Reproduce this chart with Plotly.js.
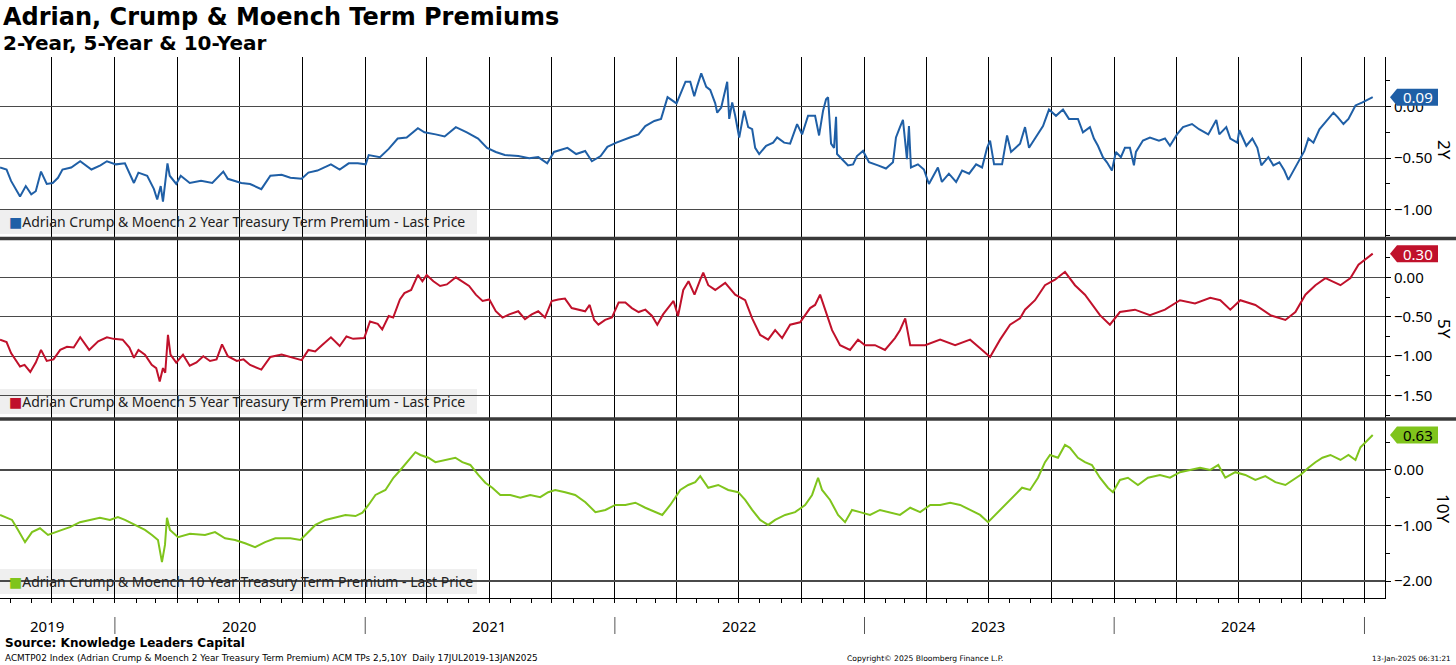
<!DOCTYPE html>
<html>
<head>
<meta charset="utf-8">
<script src="https://cdn.plot.ly/plotly-3.0.1.min.js"></script>
<style>
html,body{margin:0;padding:0;background:#fff;}
#chart{width:1456px;height:665px;}
</style>
</head>
<body>
<div id="chart"></div>
<script>
// ---- Data (decimal-year dates, values in %) ----
const t2y = [2019.540,2019.566,2019.584,2019.620,2019.643,2019.665,2019.683,2019.704,2019.727,2019.751,2019.772,2019.790,2019.825,2019.861,2019.906,2019.942,2019.968,2020.004,2020.040,2020.076,2020.094,2020.129,2020.156,2020.169,2020.183,2020.192,2020.210,2020.219,2020.245,2020.263,2020.299,2020.344,2020.389,2020.433,2020.451,2020.505,2020.540,2020.585,2020.621,2020.666,2020.701,2020.746,2020.773,2020.809,2020.863,2020.898,2020.934,2020.970,2021.002,2021.014,2021.059,2021.094,2021.130,2021.166,2021.211,2021.237,2021.282,2021.318,2021.363,2021.407,2021.452,2021.488,2021.523,2021.559,2021.613,2021.657,2021.693,2021.729,2021.756,2021.810,2021.845,2021.881,2021.908,2021.943,2021.970,2022.006,2022.060,2022.095,2022.122,2022.158,2022.185,2022.211,2022.247,2022.283,2022.302,2022.318,2022.330,2022.346,2022.366,2022.382,2022.402,2022.410,2022.426,2022.450,2022.458,2022.470,2022.482,2022.498,2022.518,2022.534,2022.550,2022.562,2022.578,2022.606,2022.634,2022.650,2022.678,2022.702,2022.730,2022.750,2022.774,2022.802,2022.818,2022.834,2022.846,2022.854,2022.866,2022.878,2022.886,2022.890,2022.910,2022.934,2022.954,2022.970,2022.994,2023.018,2023.054,2023.086,2023.114,2023.126,2023.142,2023.154,2023.170,2023.178,2023.186,2023.214,2023.238,2023.258,2023.294,2023.310,2023.338,2023.367,2023.391,2023.419,2023.447,2023.471,2023.491,2023.503,2023.519,2023.551,2023.571,2023.587,2023.623,2023.643,2023.659,2023.687,2023.715,2023.739,2023.767,2023.795,2023.819,2023.855,2023.875,2023.903,2023.919,2023.935,2023.955,2023.971,2023.991,2024.007,2024.027,2024.043,2024.063,2024.079,2024.087,2024.115,2024.143,2024.179,2024.203,2024.223,2024.251,2024.275,2024.311,2024.339,2024.376,2024.408,2024.420,2024.448,2024.464,2024.492,2024.500,2024.528,2024.552,2024.572,2024.588,2024.616,2024.636,2024.660,2024.680,2024.696,2024.724,2024.740,2024.760,2024.776,2024.796,2024.820,2024.848,2024.876,2024.892,2024.916,2024.936,2024.964,2024.992,2025.033];
const v2y = [-0.59,-0.61,-0.72,-0.87,-0.77,-0.85,-0.82,-0.63,-0.75,-0.74,-0.69,-0.61,-0.59,-0.53,-0.61,-0.57,-0.53,-0.56,-0.55,-0.74,-0.64,-0.67,-0.80,-0.90,-0.77,-0.92,-0.55,-0.67,-0.75,-0.67,-0.74,-0.72,-0.74,-0.63,-0.70,-0.74,-0.75,-0.80,-0.67,-0.66,-0.69,-0.70,-0.64,-0.62,-0.56,-0.61,-0.55,-0.55,-0.56,-0.47,-0.49,-0.41,-0.31,-0.30,-0.21,-0.25,-0.27,-0.29,-0.20,-0.25,-0.31,-0.40,-0.44,-0.47,-0.48,-0.50,-0.49,-0.55,-0.44,-0.40,-0.46,-0.43,-0.53,-0.48,-0.39,-0.35,-0.30,-0.27,-0.19,-0.14,-0.12,0.09,0.03,0.24,0.24,0.10,0.20,0.32,0.19,0.16,0.03,-0.06,-0.01,0.24,-0.12,0.04,-0.09,-0.30,-0.04,-0.20,-0.22,-0.40,-0.46,-0.38,-0.35,-0.30,-0.35,-0.36,-0.17,-0.27,-0.09,-0.09,-0.28,-0.04,0.07,0.09,-0.36,-0.40,-0.10,-0.46,-0.51,-0.57,-0.56,-0.48,-0.43,-0.54,-0.57,-0.60,-0.54,-0.30,-0.20,-0.13,-0.51,-0.19,-0.59,-0.56,-0.61,-0.75,-0.59,-0.73,-0.65,-0.73,-0.62,-0.65,-0.56,-0.59,-0.40,-0.33,-0.56,-0.56,-0.28,-0.44,-0.36,-0.20,-0.40,-0.30,-0.19,-0.03,-0.09,-0.03,-0.12,-0.12,-0.25,-0.20,-0.31,-0.38,-0.49,-0.54,-0.62,-0.44,-0.49,-0.40,-0.40,-0.57,-0.44,-0.33,-0.30,-0.33,-0.31,-0.38,-0.27,-0.20,-0.17,-0.22,-0.27,-0.13,-0.27,-0.20,-0.31,-0.35,-0.23,-0.38,-0.31,-0.40,-0.57,-0.49,-0.57,-0.54,-0.62,-0.71,-0.59,-0.53,-0.43,-0.31,-0.35,-0.22,-0.14,-0.06,-0.10,-0.17,-0.12,0.01,0.04,0.09];

const t5y = [2019.540,2019.566,2019.584,2019.620,2019.638,2019.661,2019.683,2019.704,2019.727,2019.754,2019.781,2019.808,2019.835,2019.861,2019.897,2019.933,2019.968,2019.995,2020.031,2020.058,2020.076,2020.094,2020.120,2020.147,2020.165,2020.179,2020.192,2020.201,2020.212,2020.222,2020.245,2020.272,2020.299,2020.326,2020.353,2020.380,2020.406,2020.428,2020.451,2020.487,2020.514,2020.540,2020.585,2020.621,2020.666,2020.701,2020.746,2020.773,2020.800,2020.827,2020.863,2020.898,2020.925,2020.952,2020.996,2021.019,2021.050,2021.068,2021.094,2021.112,2021.139,2021.157,2021.184,2021.211,2021.229,2021.246,2021.273,2021.300,2021.327,2021.363,2021.390,2021.416,2021.443,2021.470,2021.497,2021.523,2021.550,2021.577,2021.613,2021.640,2021.667,2021.693,2021.720,2021.747,2021.773,2021.800,2021.827,2021.854,2021.881,2021.899,2021.917,2021.934,2021.961,2021.988,2022.015,2022.042,2022.068,2022.095,2022.122,2022.149,2022.170,2022.193,2022.220,2022.235,2022.253,2022.274,2022.295,2022.319,2022.342,2022.354,2022.374,2022.402,2022.442,2022.482,2022.522,2022.550,2022.582,2022.614,2022.642,2022.670,2022.702,2022.742,2022.782,2022.802,2022.822,2022.842,2022.870,2022.902,2022.942,2022.974,2023.002,2023.042,2023.082,2023.122,2023.142,2023.163,2023.183,2023.243,2023.303,2023.363,2023.423,2023.463,2023.503,2023.543,2023.583,2023.623,2023.643,2023.683,2023.723,2023.763,2023.803,2023.843,2023.883,2023.943,2023.983,2024.023,2024.083,2024.143,2024.203,2024.263,2024.323,2024.384,2024.424,2024.464,2024.504,2024.564,2024.624,2024.684,2024.724,2024.764,2024.804,2024.844,2024.904,2024.944,2024.976,2025.033];
const v5y = [-0.79,-0.82,-0.96,-1.13,-1.11,-1.20,-1.08,-0.92,-1.06,-1.04,-0.92,-0.88,-0.89,-0.76,-0.92,-0.81,-0.76,-0.78,-0.79,-0.89,-1.02,-0.92,-0.98,-1.11,-1.15,-1.32,-1.15,-1.21,-0.73,-0.98,-1.08,-0.98,-1.12,-1.08,-1.00,-1.06,-1.04,-0.85,-1.00,-1.06,-1.04,-1.11,-1.17,-1.01,-0.98,-1.01,-1.05,-0.92,-0.94,-0.86,-0.76,-0.87,-0.75,-0.78,-0.77,-0.56,-0.59,-0.66,-0.49,-0.51,-0.28,-0.20,-0.16,0.03,-0.05,0.03,-0.05,-0.11,-0.09,0.00,-0.06,-0.11,-0.22,-0.30,-0.28,-0.43,-0.51,-0.47,-0.43,-0.53,-0.47,-0.43,-0.51,-0.30,-0.28,-0.27,-0.39,-0.41,-0.43,-0.35,-0.54,-0.60,-0.54,-0.51,-0.32,-0.32,-0.39,-0.44,-0.41,-0.49,-0.60,-0.47,-0.37,-0.30,-0.49,-0.16,-0.05,-0.22,-0.03,0.06,-0.10,-0.16,-0.07,-0.22,-0.29,-0.52,-0.73,-0.79,-0.67,-0.77,-0.60,-0.57,-0.39,-0.35,-0.22,-0.41,-0.67,-0.86,-0.92,-0.79,-0.86,-0.86,-0.92,-0.77,-0.67,-0.52,-0.86,-0.86,-0.79,-0.86,-0.79,-0.90,-1.01,-0.79,-0.60,-0.52,-0.41,-0.29,-0.10,-0.03,0.07,-0.10,-0.22,-0.48,-0.60,-0.44,-0.41,-0.48,-0.41,-0.29,-0.33,-0.26,-0.29,-0.41,-0.29,-0.35,-0.48,-0.54,-0.44,-0.22,-0.10,-0.01,-0.10,-0.01,0.16,0.30];

const t10y = [2019.540,2019.588,2019.612,2019.640,2019.668,2019.700,2019.732,2019.760,2019.788,2019.820,2019.860,2019.900,2019.940,2019.980,2020.012,2020.040,2020.080,2020.120,2020.148,2020.172,2020.188,2020.200,2020.208,2020.220,2020.252,2020.300,2020.360,2020.400,2020.440,2020.480,2020.520,2020.560,2020.600,2020.641,2020.701,2020.741,2020.761,2020.801,2020.841,2020.881,2020.921,2020.961,2020.989,2021.013,2021.041,2021.081,2021.113,2021.141,2021.173,2021.201,2021.221,2021.253,2021.281,2021.321,2021.361,2021.389,2021.421,2021.453,2021.481,2021.509,2021.541,2021.581,2021.621,2021.661,2021.701,2021.733,2021.761,2021.801,2021.841,2021.882,2021.922,2021.962,2022.002,2022.042,2022.082,2022.122,2022.162,2022.190,2022.222,2022.262,2022.294,2022.322,2022.342,2022.374,2022.414,2022.454,2022.494,2022.522,2022.550,2022.582,2022.614,2022.642,2022.682,2022.722,2022.762,2022.790,2022.814,2022.830,2022.862,2022.894,2022.922,2022.950,2022.982,2023.022,2023.062,2023.102,2023.142,2023.183,2023.223,2023.263,2023.303,2023.343,2023.383,2023.423,2023.463,2023.495,2023.523,2023.563,2023.603,2023.631,2023.663,2023.695,2023.723,2023.743,2023.775,2023.803,2023.823,2023.855,2023.883,2023.911,2023.943,2023.975,2023.995,2024.023,2024.055,2024.095,2024.135,2024.183,2024.223,2024.263,2024.303,2024.343,2024.384,2024.416,2024.444,2024.484,2024.524,2024.564,2024.604,2024.644,2024.684,2024.716,2024.744,2024.776,2024.804,2024.832,2024.864,2024.904,2024.936,2024.964,2024.984,2025.033];
const v10y = [-0.81,-0.90,-1.08,-1.30,-1.12,-1.05,-1.17,-1.12,-1.08,-1.03,-0.94,-0.90,-0.86,-0.90,-0.85,-0.90,-0.99,-1.08,-1.17,-1.26,-1.66,-1.35,-0.86,-1.08,-1.21,-1.15,-1.17,-1.12,-1.23,-1.26,-1.32,-1.39,-1.30,-1.23,-1.23,-1.26,-1.17,-0.99,-0.90,-0.86,-0.81,-0.83,-0.77,-0.63,-0.45,-0.36,-0.14,0.00,0.18,0.32,0.27,0.22,0.14,0.18,0.22,0.14,0.09,-0.09,-0.23,-0.32,-0.45,-0.45,-0.50,-0.45,-0.49,-0.40,-0.36,-0.40,-0.45,-0.58,-0.76,-0.72,-0.63,-0.63,-0.59,-0.68,-0.76,-0.81,-0.63,-0.36,-0.27,-0.22,-0.11,-0.32,-0.27,-0.36,-0.40,-0.54,-0.72,-0.90,-0.99,-0.90,-0.81,-0.76,-0.63,-0.45,-0.14,-0.36,-0.54,-0.81,-0.94,-0.72,-0.76,-0.81,-0.72,-0.76,-0.81,-0.68,-0.76,-0.63,-0.63,-0.59,-0.63,-0.72,-0.81,-0.94,-0.81,-0.63,-0.45,-0.32,-0.36,-0.14,0.14,0.27,0.22,0.45,0.40,0.22,0.14,0.09,-0.14,-0.32,-0.40,-0.18,-0.14,-0.27,-0.14,-0.09,-0.14,-0.04,0.00,0.04,0.00,0.09,-0.14,-0.04,-0.09,-0.18,-0.11,-0.22,-0.27,-0.18,-0.09,0.04,0.14,0.22,0.27,0.18,0.27,0.18,0.41,0.63];

const seriesNames = ["Adrian Crump & Moench 2 Year Treasury Term Premium - Last Price",
                     "Adrian Crump & Moench 5 Year Treasury Term Premium - Last Price",
                     "Adrian Crump & Moench 10 Year Treasury Term Premium - Last Price"];
const axisLabels = ["2Y","5Y","10Y"];
const lastValues = ["0.09","0.30","0.63"];
const yearLabels = ["2019","2020","2021","2022","2023","2024"];
const yearLabelDates = ["2019-09-23","2020-07-01","2021-07-01","2022-07-01","2023-07-01","2024-07-01"];
const yearBreaks = ["2020-01-01","2021-01-01","2022-01-01","2023-01-01","2024-01-01","2025-01-01"];

// ---- helpers ----
function dec2date(t){
  const y = Math.floor(t);
  const a = Date.UTC(y,0,1), b = Date.UTC(y+1,0,1);
  return new Date(a + (t-y)*(b-a)).toISOString().replace('T',' ').slice(0,19);
}
const colors = ['#1f5fa6','#c0112b','#7fc41c'];
const tagColors = ['#1f5fa6','#c0112b','#7fc41c'];
const tagText = ['#ffffff','#ffffff','#000000'];

const W = 1456, H = 665, ML = 0, MR = 71, MT = 57, MB = 67;
const PW = W-ML-MR, PH = H-MT-MB;
const px2x = p => (p-ML)/PW;
const py2y = p => (H-MB-p)/PH;

const tlists = [t2y,t5y,t10y], vlists = [v2y,v5y,v10y];
const yrefs = ['y','y2','y3'];
const traces = tlists.map((tl,i)=>({
  x: tl.map(dec2date), y: vlists[i], type:'scatter', mode:'lines',
  line:{color:colors[i], width:2}, xaxis:'x', yaxis:yrefs[i], hoverinfo:'skip', showlegend:false
}));

const baseFont = 'Noto Sans, DejaVu Sans, sans-serif';
function yax(domain, range, dtick, minor){
  return {
    domain, range, side:'right', anchor:'x', dtick, tick0:0, tickformat:'.2f',
    showgrid:true, gridcolor:'#4a4a4a', gridwidth:1.3, zeroline:false,
    showline:true, linecolor:'#000', linewidth:1,
    ticks:'outside', ticklen:5, tickcolor:'#000',
    minor:{dtick:minor, ticks:'outside', ticklen:4, tickcolor:'#000', showgrid:false},
    tickfont:{family:baseFont, size:15, color:'#000'}, fixedrange:true
  };
}

const dom1=[py2y(237),1], dom2=[py2y(418),py2y(240)], dom3=[0,py2y(420)];

const shapes = [];
const annotations = [];
// panel dividers
[238.5, 419].forEach(p=>shapes.push({type:'line', xref:'paper', yref:'paper', x0:0, x1:W/PW, y0:py2y(p), y1:py2y(p), line:{color:'#3a3a3a', width:3.5}, layer:'above'}));
// legend boxes
const legBox = [[209,234],[389,414],[569,594]];
legBox.forEach((b,i)=>{
  shapes.push({type:'rect', xref:'paper', yref:'paper', x0:0, x1:px2x(477), y0:py2y(b[1]), y1:py2y(b[0]), fillcolor:'#efefef', line:{width:0}, layer:'below'});
  annotations.push({xref:'paper', yref:'paper', x:px2x(7), y:py2y((b[0]+b[1])/2), xanchor:'left', yanchor:'middle', showarrow:false,
    text:'<span style="color:'+colors[i]+'">■</span>'+seriesNames[i], font:{family:baseFont, size:14, color:'#222'}});
});
// year separators + labels
yearBreaks.forEach(d=>shapes.push({type:'line', xref:'x', yref:'paper', x0:d, x1:d, y0:py2y(617), y1:py2y(634), line:{color:'#555', width:1}}));
yearLabels.forEach((l,i)=>annotations.push({xref:'x', yref:'paper', x:yearLabelDates[i], y:py2y(626), xanchor:'center', yanchor:'middle', showarrow:false, text:l, font:{family:baseFont, size:15, color:'#000'}}));
// right axis titles
const titleY = [150, 329, 508];
axisLabels.forEach((l,i)=>annotations.push({xref:'paper', yref:'paper', x:px2x(1444), y:py2y(titleY[i]), textangle:90, showarrow:false, xanchor:'center', yanchor:'middle', text:l, font:{family:baseFont, size:17, color:'#000'}}));
// last-value tags
vlists.forEach((vl,i)=>{
  const v = vl[vl.length-1];
  shapes.push({type:'path', xref:'paper', yref:yrefs[i], xsizemode:'pixel', ysizemode:'pixel', xanchor:1, yanchor:v,
    path:'M 5 0 L 12 8.5 L 53 8.5 L 53 -8.5 L 12 -8.5 Z', fillcolor:tagColors[i], line:{width:0}, layer:'above'});
  annotations.push({xref:'paper', yref:yrefs[i], x:px2x(1418), y:v, xanchor:'center', yanchor:'middle', showarrow:false, text:lastValues[i], font:{family:baseFont, size:15, color:tagText[i]}});
});
// titles and footer
annotations.push({xref:'paper', yref:'paper', x:px2x(1), y:py2y(17), xanchor:'left', yanchor:'middle', showarrow:false, text:'<b>Adrian, Crump & Moench Term Premiums</b>', font:{family:'DejaVu Sans, sans-serif', size:24, color:'#000'}});
annotations.push({xref:'paper', yref:'paper', x:px2x(1), y:py2y(43), xanchor:'left', yanchor:'middle', showarrow:false, text:'<b>2-Year, 5-Year & 10-Year</b>', font:{family:'DejaVu Sans, sans-serif', size:20, color:'#000'}});
annotations.push({xref:'paper', yref:'paper', x:px2x(3), y:py2y(643), xanchor:'left', yanchor:'middle', showarrow:false, text:'<b>Source: Knowledge Leaders Capital</b>', font:{family:'DejaVu Sans, sans-serif', size:12, color:'#000'}});
annotations.push({xref:'paper', yref:'paper', x:px2x(3), y:py2y(658), xanchor:'left', yanchor:'middle', showarrow:false, text:'ACMTP02 Index (Adrian Crump & Moench 2 Year Treasury Term Premium) ACM TPs 2,5,10Y  Daily 17JUL2019-13JAN2025', font:{family:'DejaVu Sans, sans-serif', size:8.9, color:'#000'}});
annotations.push({xref:'paper', yref:'paper', x:px2x(925), y:py2y(658), xanchor:'center', yanchor:'middle', showarrow:false, text:'Copyright© 2025 Bloomberg Finance L.P.', font:{family:'DejaVu Sans, sans-serif', size:7.6, color:'#000'}});
annotations.push({xref:'paper', yref:'paper', x:px2x(1453), y:py2y(658), xanchor:'right', yanchor:'middle', showarrow:false, text:'13-Jan-2025 06:31:21', font:{family:'DejaVu Sans, sans-serif', size:7.2, color:'#000'}});

const layout = {
  width:W, height:H, margin:{l:ML, r:MR, t:MT, b:MB, pad:0},
  paper_bgcolor:'#fff', plot_bgcolor:'#fff', showlegend:false,
  xaxis:{type:'date', range:['2019-07-17','2025-01-31'], anchor:'y3', dtick:'M3', tick0:'2019-10-01',
    showticklabels:false, showgrid:true, gridcolor:'#000', gridwidth:1, zeroline:false,
    showline:true, linecolor:'#000', ticks:'outside', ticklen:4, tickcolor:'#000',
    minor:{dtick:'M1', tick0:'2019-08-01', ticks:'outside', ticklen:4, tickcolor:'#000', showgrid:false}, fixedrange:true},
  yaxis: yax(dom1, [-1.263,0.479], 0.5, 0.25),
  yaxis2: yax(dom2, [-1.783,0.473], 0.5, 0.25),
  yaxis3: yax(dom3, [-2.306,0.90], 1, 0.5),
  shapes, annotations
};
Plotly.newPlot('chart', traces, layout, {staticPlot:true, displayModeBar:false});
</script>
</body>
</html>
